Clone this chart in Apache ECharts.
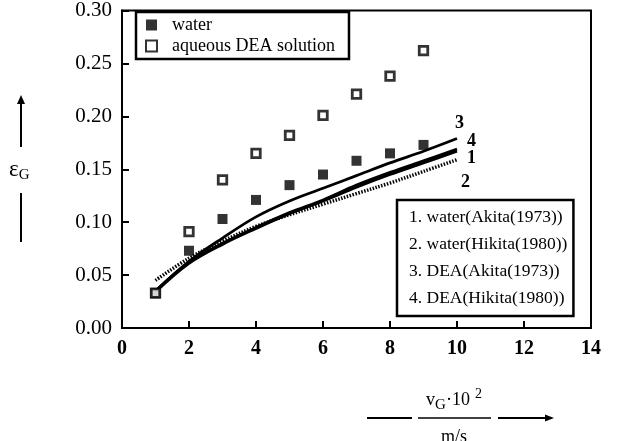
<!DOCTYPE html>
<html>
<head>
<meta charset="utf-8">
<script src="https://cdn.jsdelivr.net/npm/echarts@6/dist/echarts.min.js"></script>
<style>
  html, body { margin: 0; padding: 0; background: #fff; }
  #chart { width: 620px; height: 441px; }
</style>
</head>
<body>
<div id="chart"></div>
<script>
// Measured gas holdup against superficial gas velocity (vG·10² in m/s)
const velocity = [1, 2, 3, 4, 5, 6, 7, 8, 9];
const waterHoldup = [0.033, 0.073, 0.103, 0.121, 0.135, 0.145, 0.158, 0.165, 0.173];
const deaHoldup = [0.033, 0.091, 0.140, 0.165, 0.182, 0.201, 0.221, 0.238, 0.262];

// Correlation curves
const curveVelocity = [1, 2, 3, 4, 5, 6, 7, 8, 9, 10];
const akitaWater = [0.034, 0.061, 0.079, 0.094, 0.108, 0.120, 0.133, 0.145, 0.156, 0.167];
const hikitaWater = [0.045, 0.066, 0.082, 0.096, 0.107, 0.117, 0.127, 0.137, 0.148, 0.159];
const akitaDEA = [0.035, 0.063, 0.085, 0.105, 0.120, 0.132, 0.144, 0.156, 0.167, 0.179];
const hikitaDEA = [0.035, 0.062, 0.080, 0.095, 0.109, 0.121, 0.135, 0.147, 0.158, 0.169];

const curveNames = ['1. water(Akita(1973))', '2. water(Hikita(1980))', '3. DEA(Akita(1973))', '4. DEA(Hikita(1980))'];
const curveTags = ['1', '2', '3', '4'];
const xTicks = { min: 0, max: 14, step: 2 };
const yTicks = { min: 0, max: 0.30, step: 0.05 };

const serif = 'Liberation Serif';
const pairs = (xs, ys) => xs.map((x, i) => [x, ys[i]]);

function curveSeries(name, tag, ys, dashed, tagOffset) {
  return {
    name: name,
    type: 'line',
    data: pairs(curveVelocity, ys),
    smooth: 0.35,
    showSymbol: false,
    symbol: 'none',
    lineStyle: dashed
      ? { color: '#000', width: 3.5, type: [1.5, 1.5] }
      : { color: '#000', width: 2.8 },
    endLabel: {
      show: true,
      formatter: tag,
      fontFamily: serif,
      fontSize: 18,
      fontWeight: 'bold',
      color: '#000',
      offset: tagOffset
    },
    z: 3
  };
}

const chart = echarts.init(document.getElementById('chart'), null, { renderer: 'canvas' });

chart.setOption({
  animation: false,
  backgroundColor: '#fff',
  grid: {
    left: 122, right: 29, top: 8, bottom: 113,
    show: true, borderColor: '#000', borderWidth: 2
  },
  xAxis: {
    type: 'value',
    min: xTicks.min, max: xTicks.max, interval: xTicks.step,
    axisLine: { lineStyle: { color: '#000', width: 2 } },
    axisTick: { inside: true, length: 7, lineStyle: { color: '#000', width: 2 } },
    axisLabel: { color: '#000', fontFamily: serif, fontSize: 20, fontWeight: 'bold', margin: 11 },
    splitLine: { show: false }
  },
  yAxis: {
    type: 'value',
    min: yTicks.min, max: yTicks.max, interval: yTicks.step,
    axisLine: { lineStyle: { color: '#000', width: 2 } },
    axisTick: { inside: true, length: 7, lineStyle: { color: '#000', width: 2 } },
    axisLabel: {
      color: '#000', fontFamily: serif, fontSize: 21, margin: 10,
      formatter: v => v.toFixed(2)
    },
    splitLine: { show: false }
  },
  legend: [
    {
      data: ['water', 'aqueous DEA solution'],
      orient: 'vertical',
      left: 136, top: 12,
      padding: [4, 14, 4, 9],
      itemGap: 3,
      itemWidth: 11, itemHeight: 11,
      borderColor: '#000', borderWidth: 2.5,
      textStyle: { fontFamily: serif, fontSize: 18, color: '#000', padding: [0, 0, 0, 10] }
    },
    {
      data: curveNames,
      orient: 'vertical',
      left: 397, top: 200,
      padding: [8, 6, 8, 6],
      itemGap: 8,
      itemWidth: 0, itemHeight: 0,
      borderColor: '#000', borderWidth: 2.5,
      selectedMode: false,
      textStyle: { fontFamily: serif, fontSize: 17.5, color: '#000', lineHeight: 19 }
    }
  ],
  series: [
    curveSeries(curveNames[0], curveTags[0], akitaWater, false, [2, 7]),
    curveSeries(curveNames[1], curveTags[1], hikitaWater, true, [-4, 23]),
    curveSeries(curveNames[2], curveTags[2], akitaDEA, false, [-10, -15]),
    curveSeries(curveNames[3], curveTags[3], hikitaDEA, false, [2, -8]),
    {
      name: 'water',
      type: 'scatter',
      data: pairs(velocity, waterHoldup),
      symbol: 'rect',
      symbolSize: 10,
      itemStyle: { color: '#000' },
      z: 5
    },
    {
      name: 'aqueous DEA solution',
      type: 'scatter',
      data: pairs(velocity, deaHoldup),
      symbol: 'rect',
      symbolSize: 8.5,
      itemStyle: { color: '#fff', borderColor: '#000', borderWidth: 2.8 },
      z: 6
    }
  ],
  graphic: [
    // y-axis title: arrow, symbol, bar
    { type: 'line', shape: { x1: 21, y1: 147, x2: 21, y2: 102 }, style: { stroke: '#000', lineWidth: 2 } },
    { type: 'polygon', shape: { points: [[17, 104], [25, 104], [21, 95]] }, style: { fill: '#000' } },
    {
      type: 'text', left: 9, top: 158,
      style: {
        text: '{e|ε}{s|G}',
        rich: {
          e: { fontFamily: serif, fontSize: 23, color: '#000', lineHeight: 26, verticalAlign: 'middle' },
          s: { fontFamily: serif, fontSize: 15, color: '#000', lineHeight: 26, verticalAlign: 'bottom', padding: [7, 0, 0, 0] }
        }
      }
    },
    { type: 'line', shape: { x1: 21, y1: 193, x2: 21, y2: 242 }, style: { stroke: '#000', lineWidth: 2 } },
    // x-axis title: lead line, fraction, arrow
    { type: 'line', shape: { x1: 367, y1: 418, x2: 412, y2: 418 }, style: { stroke: '#000', lineWidth: 2 } },
    { type: 'line', shape: { x1: 418, y1: 418, x2: 491, y2: 418 }, style: { stroke: '#000', lineWidth: 1.5 } },
    {
      type: 'text', x: 454, y: 400,
      style: {
        text: '{v|v}{s|G}{v|·10}{p|2}',
        align: 'center', verticalAlign: 'middle',
        rich: {
          v: { fontFamily: serif, fontSize: 18, color: '#000', lineHeight: 26, verticalAlign: 'middle' },
          s: { fontFamily: serif, fontSize: 15, color: '#000', lineHeight: 26, verticalAlign: 'bottom' },
          p: { fontFamily: serif, fontSize: 14, color: '#000', lineHeight: 26, verticalAlign: 'top', padding: [0, 0, 0, 5] }
        }
      }
    },
    {
      type: 'text', x: 454, y: 437,
      style: { text: 'm/s', align: 'center', verticalAlign: 'middle', fontFamily: serif, fontSize: 18, fill: '#000' }
    },
    { type: 'line', shape: { x1: 498, y1: 418, x2: 547, y2: 418 }, style: { stroke: '#000', lineWidth: 2 } },
    { type: 'polygon', shape: { points: [[545, 414.5], [545, 421.5], [554, 418]] }, style: { fill: '#000' } }
  ]
});
</script>
</body>
</html>
